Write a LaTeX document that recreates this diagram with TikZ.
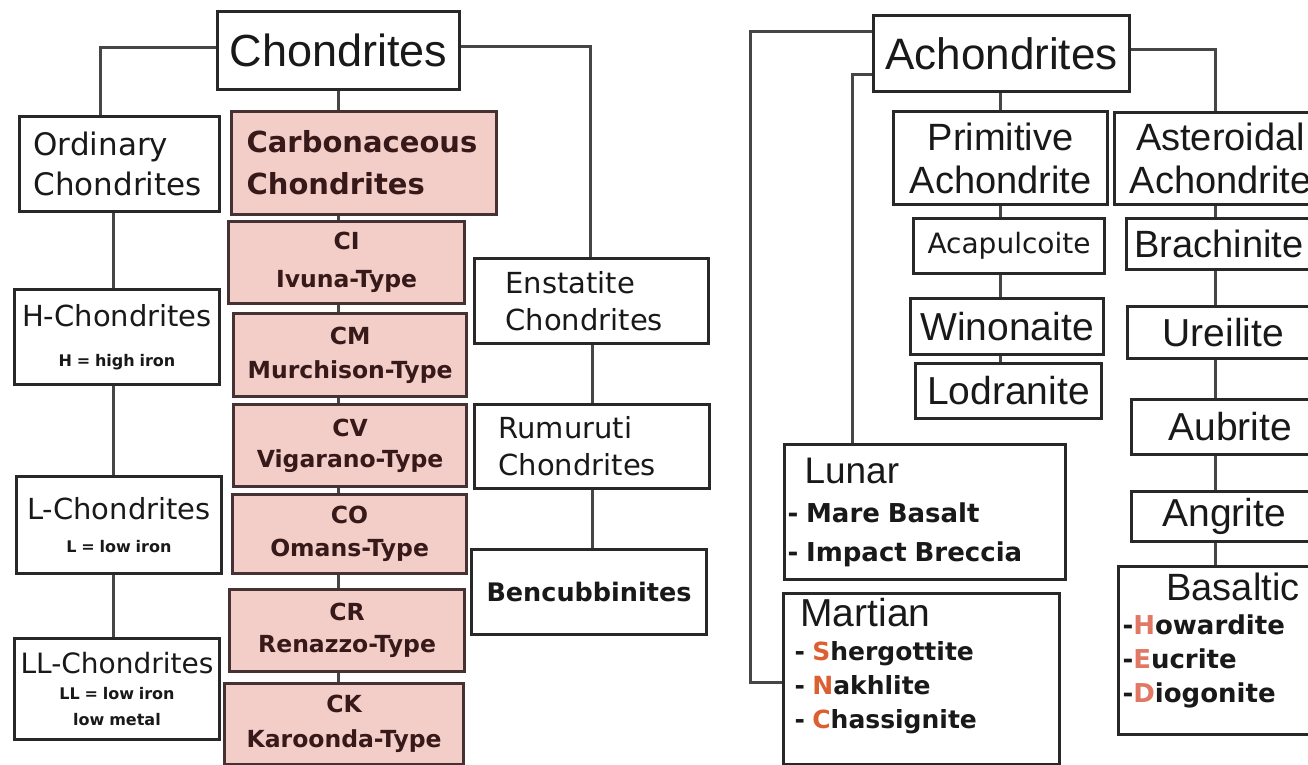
\documentclass[tikz,border=0pt]{standalone}
\usepackage{fontspec}
\setmainfont{Liberation Sans}
\newfontfamily\dv{DejaVu Sans}
\newcommand{\fsz}[2]{\fontsize{#1}{#2}\selectfont}
\newcommand{\sfz}[2]{\fontsize{#1}{#2}\selectfont\spaceskip=.3em\relax\xspaceskip=.3em\relax}
\definecolor{boxc}{RGB}{40,40,40}
\definecolor{linec}{RGB}{70,70,70}
\definecolor{pinkf}{RGB}{243,205,200}
\definecolor{pinkd}{RGB}{70,50,50}
\definecolor{txt}{RGB}{25,25,25}
\definecolor{ptxt}{RGB}{55,25,25}
\definecolor{ors}{RGB}{220,95,50}
\definecolor{orb}{RGB}{225,120,100}
\tikzset{
  bx/.style={draw=boxc, line width=3pt, fill=white, anchor=north west, inner ysep=0pt, text=txt},
  pk/.style={bx, fill=pinkf, draw=pinkd, line width=3.2pt, text=ptxt},
  conn/.style={draw=linec, line width=3pt},
  sz/.style n args={4}{minimum width=#1pt, minimum height=#2pt, inner xsep=#3pt, text width=#4pt},
  ctype/.style={pk, align=center, font={\dv\bfseries\fsz{23.5}{#1}}},
}
\begin{document}
\begin{tikzpicture}[x=1pt,y=-1pt]
\path[use as bounding box] (0,0) rectangle (1308,765);
\fill[white] (0,0) rectangle (1308,765);
\clip (0,0) rectangle (1308,765);

% ---------- Chondrites ----------
\node[bx, sz={242}{78}{5}{232}, align=center, font={\fsz{45}{50}}] (chon) at (216,10) {Chondrites};
\node[bx, sz={200}{95}{14}{172}, align=left, font={\dv\fsz{31}{40}}] (ord) at (18,115) {Ordinary\\Chondrites};
\node[pk, sz={265}{103}{15}{235}, align=left, font={\dv\bfseries\fsz{29}{42}}] (carb) at (230,110) {Carbonaceous\\Chondrites};
\node[ctype=38, sz={236}{82}{5}{226}] (ci) at (227,220) {CI\\Ivuna-Type};
\node[ctype=34, sz={233}{83}{5}{223}] (cm) at (232,312) {CM\\Murchison-Type};
\node[ctype=31, sz={233}{82}{5}{223}] (cv) at (232,403) {CV\\Vigarano-Type};
\node[ctype=33, sz={234}{79}{5}{224}] (co) at (231,493) {CO\\Omans-Type};
\node[ctype=32, sz={235}{82}{5}{225}] (cr) at (228,588) {CR\\Renazzo-Type};
\node[ctype=35, sz={239}{81}{5}{229}] (ck) at (223,682) {CK\\Karoonda-Type};

\node[bx, sz={205}{95}{4}{197}, align=center, font={\dv\fsz{29}{40}}] (hch) at (13,288) {H-Chondrites\\{\bfseries\sfz{16}{16}H = high iron}};
\node[bx, sz={205}{97}{4}{197}, align=center, font={\dv\fsz{29}{33}}] (lch) at (15,475) {L-Chondrites\\{\bfseries\sfz{16}{16}L = low iron}};
\node[bx, sz={205}{101}{3}{199}, align=center, font={\dv\fsz{28}{26}}] (llch) at (13,637) {LL-Chondrites\\{\bfseries\sfz{16}{16}LL = low iron}\\{\bfseries\sfz{16}{16}low metal}};

\node[bx, sz={234}{85}{31}{172}, align=left, font={\dv\fsz{29}{37}}] (ens) at (473,257) {Enstatite\\Chondrites};
\node[bx, sz={235}{84}{24}{187}, align=left, font={\dv\fsz{29}{37}}] (rum) at (473,403) {Rumuruti\\Chondrites};
\node[bx, sz={235}{85}{5}{225}, align=center, font={\dv\bfseries\fsz{25.5}{30}}] (ben) at (470,548) {Bencubbinites};

% ---------- Achondrites ----------
\node[bx, sz={256}{76}{5}{246}, align=center, font={\fsz{44}{48}}] (ach) at (872,14) {Achondrites};
\node[bx, sz={214}{93}{4}{206}, align=center, font={\fsz{38}{43}}] (prim) at (892,110) {Primitive\\Achondrite};
\node[bx, sz={212}{92}{4}{204}, align=center, font={\fsz{38}{43}}] (ast) at (1113,111) {Asteroidal\\Achondrite};
\node[bx, sz={191}{55}{4}{183}, align=center, font={\dv\fsz{28}{30}}] (acap) at (912,217) {Acapulcoite};
\node[bx, sz={193}{56}{4}{185}, align=center, font={\fsz{39}{42}}] (win) at (909,297) {Winonaite};
\node[bx, sz={186}{55}{4}{178}, align=center, font={\fsz{39}{42}}] (lod) at (914,362) {Lodranite};
\node[bx, sz={205}{51}{8}{189}, align=left, font={\fsz{38}{42}}] (bra) at (1125,217) {Brachinite};
\node[bx, sz={205}{52}{35}{135}, align=left, font={\fsz{39}{42}}] (ure) at (1126,305) {Ureilite};
\node[bx, sz={200}{55}{37}{126}, align=left, font={\fsz{39}{42}}] (aub) at (1130,398) {Aubrite};
\node[bx, sz={200}{50}{31}{138}, align=left, font={\fsz{39}{42}}] (ang) at (1130,490) {Angrite};
\node[bx, sz={213}{168}{4}{205}, align=left, font={\fsz{38}{34}}] (bas) at (1117,565) {\hspace*{44pt}Basaltic\\{\dv\bfseries\sfz{26}{34}-\textcolor{orb}{H}owardite}\\{\dv\bfseries\sfz{26}{34}-\textcolor{orb}{E}ucrite}\\{\dv\bfseries\sfz{26}{34}-\textcolor{orb}{D}iogonite}\par\vspace{20pt}};
\node[bx, sz={281}{135}{3}{275}, align=left, font={\fsz{37}{39}}] (lun) at (783,443) {\hspace*{17pt}Lunar\\{\dv\bfseries\sfz{26}{39}- Mare Basalt}\\{\dv\bfseries\sfz{26}{39}- Impact Breccia}};
\node[bx, sz={276}{171}{11}{254}, align=left, font={\fsz{39}{34}}] (mar) at (782,592) {\hspace*{6pt}Martian\\{\dv\bfseries\sfz{25}{34}- \textcolor{ors}{S}hergottite}\\{\dv\bfseries\sfz{25}{34}- \textcolor{ors}{N}akhlite}\\{\dv\bfseries\sfz{25}{34}- \textcolor{ors}{C}hassignite}\par\vspace{26pt}};

% ---------- connectors ----------
\coordinate (c1) at (100,48);
\coordinate (c2) at (590,47);
\coordinate (xC) at (338,0);
\coordinate (xO) at (113,0);
\coordinate (xE) at (592,0);
\coordinate (a1) at (750,32);
\coordinate (a1b) at (750,682);
\coordinate (a2) at (852,75);
\coordinate (a3) at (1215,50);
\coordinate (xP) at (1000,0);
\coordinate (xA) at (1215,0);

\draw[conn] (chon.west |- c1) -- (c1) -- (c1 |- ord.north);
\draw[conn] (chon.east |- c2) -- (c2) -- (c2 |- ens.north);
\draw[conn] (chon.south -| xC) -- (carb.north -| xC);
\draw[conn] (carb.south -| xC) -- (ci.north -| xC);
\draw[conn] (ci.south -| xC) -- (cm.north -| xC);
\draw[conn] (cm.south -| xC) -- (cv.north -| xC);
\draw[conn] (cv.south -| xC) -- (co.north -| xC);
\draw[conn] (co.south -| xC) -- (cr.north -| xC);
\draw[conn] (cr.south -| xC) -- (ck.north -| xC);
\draw[conn] (ord.south -| xO) -- (hch.north -| xO);
\draw[conn] (hch.south -| xO) -- (lch.north -| xO);
\draw[conn] (lch.south -| xO) -- (llch.north -| xO);
\draw[conn] (ens.south -| xE) -- (rum.north -| xE);
\draw[conn] (rum.south -| xE) -- (ben.north -| xE);

\draw[conn] (ach.west |- a1) -- (a1) -- (a1b) -- (a1b -| mar.west);
\draw[conn] (ach.west |- a2) -- (a2) -- (a2 |- lun.north);
\draw[conn] (ach.east |- a3) -- (a3) -- (a3 |- ast.north);
\draw[conn] (ach.south -| xP) -- (prim.north -| xP);
\draw[conn] (prim.south -| xP) -- (acap.north -| xP);
\draw[conn] (acap.south -| xP) -- (win.north -| xP);
\draw[conn] (win.south -| xP) -- (lod.north -| xP);
\draw[conn] (ast.south -| xA) -- (bra.north -| xA);
\draw[conn] (bra.south -| xA) -- (ure.north -| xA);
\draw[conn] (ure.south -| xA) -- (aub.north -| xA);
\draw[conn] (aub.south -| xA) -- (ang.north -| xA);
\draw[conn] (ang.south -| xA) -- (bas.north -| xA);
\end{tikzpicture}
\end{document}
